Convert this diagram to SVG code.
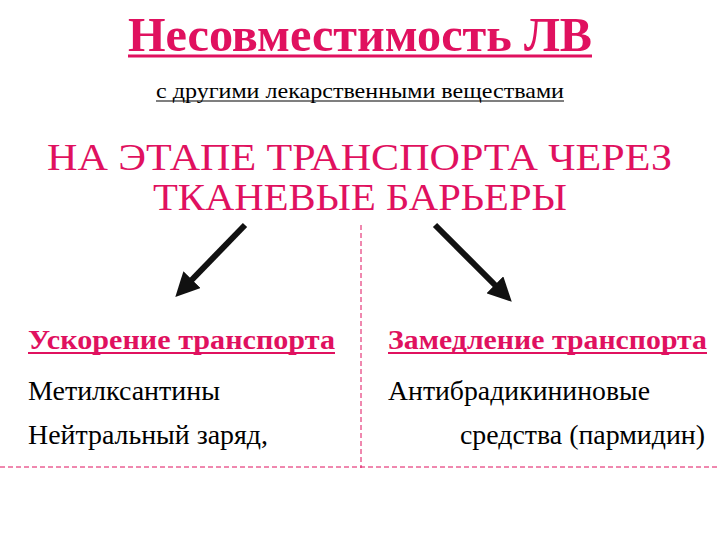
<svg xmlns="http://www.w3.org/2000/svg" width="720" height="540" viewBox="0 0 720 540">
<style>
.t{font-family:"Liberation Serif","Times New Roman",serif}
.red{fill:#E0115F}
.blk{fill:#000}
.dash{stroke:#E0115F;stroke-width:1;stroke-dasharray:5,3;fill:none}
.arr{stroke:#111;stroke-width:6;fill:none}
</style>
<defs>
<marker id="ah" viewBox="0 0 10 10" refX="6" refY="5" markerWidth="4" markerHeight="4" orient="auto" markerUnits="strokeWidth">
<path d="M0,0 L10,5 L0,10 z" fill="#111"/>
</marker>
</defs>
<rect width="720" height="540" fill="#fff"/>
<g id="title">
<text class="t red" x="128" y="51" font-size="48" font-weight="bold" textLength="464" lengthAdjust="spacingAndGlyphs">Несовместимость ЛВ</text>
<line x1="128" y1="56" x2="592" y2="56" stroke="#E0115F" stroke-width="3"/>
</g>
<g id="subtitle">
<text class="t blk" x="156" y="98" font-size="21" textLength="408" lengthAdjust="spacingAndGlyphs">с другими лекарственными веществами</text>
<line x1="156" y1="101" x2="564" y2="101" stroke="#000" stroke-width="1.2"/>
</g>
<g id="heading">
<text class="t red" x="47" y="170" font-size="38" textLength="625" lengthAdjust="spacingAndGlyphs">НА  ЭТАПЕ  ТРАНСПОРТА ЧЕРЕЗ</text>
<text class="t red" x="153" y="210" font-size="38" textLength="414" lengthAdjust="spacingAndGlyphs">ТКАНЕВЫЕ БАРЬЕРЫ</text>
</g>
<g id="connectors">
<line class="dash" x1="361" y1="225" x2="361" y2="468"/>
<line class="dash" x1="0" y1="467" x2="720" y2="467"/>
<line class="arr" x1="245" y1="225" x2="182" y2="290" marker-end="url(#ah)"/>
<line class="arr" x1="435" y1="225" x2="505" y2="295" marker-end="url(#ah)"/>
</g>
<g id="left">
<text class="t red" x="28" y="349" font-size="27" font-weight="bold" textLength="307" lengthAdjust="spacingAndGlyphs">Ускорение транспорта</text>
<line x1="28" y1="353" x2="335" y2="353" stroke="#E0115F" stroke-width="2"/>
<text class="t blk" x="28" y="400" font-size="27" textLength="192" lengthAdjust="spacingAndGlyphs">Метилксантины</text>
<text class="t blk" x="28" y="444" font-size="27" textLength="240" lengthAdjust="spacingAndGlyphs">Нейтральный заряд,</text>
</g>
<g id="right">
<text class="t red" x="388" y="349" font-size="27" font-weight="bold" textLength="319" lengthAdjust="spacingAndGlyphs">Замедление транспорта</text>
<line x1="388" y1="353" x2="707" y2="353" stroke="#E0115F" stroke-width="2"/>
<text class="t blk" x="388" y="400" font-size="27" textLength="262" lengthAdjust="spacingAndGlyphs">Антибрадикининовые</text>
<text class="t blk" x="460" y="444" font-size="27" textLength="245" lengthAdjust="spacingAndGlyphs">средства (пармидин)</text>
</g>
</svg>
